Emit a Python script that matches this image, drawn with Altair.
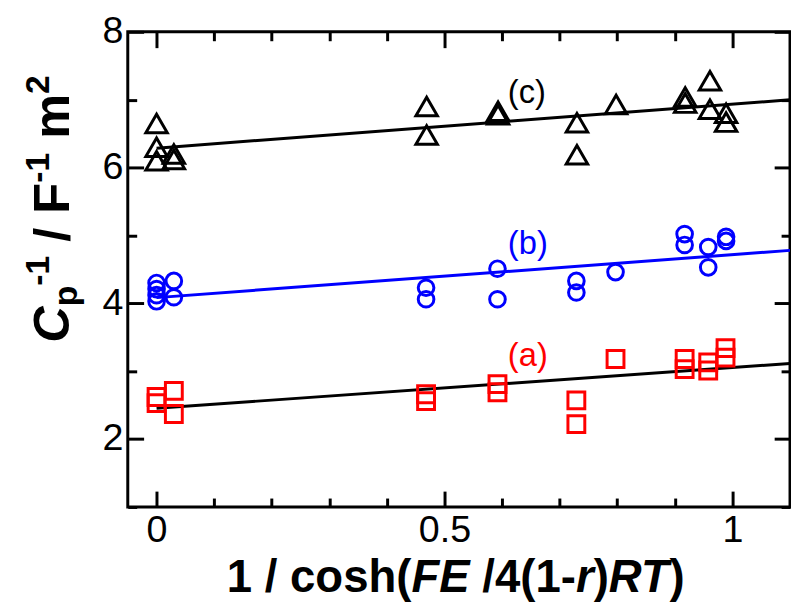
import altair as alt
import pandas as pd

# ---- data ----
xa = [0.0, 0.0, 0.03, 0.03, 0.468, 0.468, 0.592, 0.592, 0.729, 0.729, 0.797,
      0.917, 0.917, 0.958, 0.958, 0.988, 0.988]
ya = [2.62, 2.53, 2.71, 2.37, 2.66, 2.56, 2.81, 2.69, 2.57, 2.22, 3.18,
      3.18, 3.03, 3.13, 3.01, 3.34, 3.20]
xb = [0.0, 0.0, 0.0, 0.0, 0.03, 0.03, 0.468, 0.468, 0.592, 0.592, 0.729, 0.729,
      0.797, 0.917, 0.917, 0.958, 0.958, 0.989, 0.989]
yb = [4.30, 4.21, 4.12, 4.03, 4.33, 4.09, 4.23, 4.06, 4.51, 4.06, 4.33, 4.16,
      4.46, 5.02, 4.86, 4.83, 4.53, 4.98, 4.92]
xc = [0.0, 0.0, 0.0, 0.03, 0.03, 0.469, 0.469, 0.593, 0.593, 0.730, 0.730,
      0.798, 0.918, 0.918, 0.961, 0.961, 0.989, 0.989]
yc = [6.65, 6.30, 6.10, 6.20, 6.12, 6.90, 6.48, 6.83, 6.78, 6.66, 6.19,
      6.93, 7.04, 6.95, 7.28, 6.86, 6.80, 6.67]

label_text = ["(a)", "(b)", "(c)"]
label_x = [0.61, 0.61, 0.61]
label_y = [3.08, 4.73, 6.95]
label_col = ["#ff0000", "#0000ff", "#000000"]

x_ticks = [0.0, 0.1, 0.2, 0.3, 0.4, 0.5, 0.6, 0.7, 0.8, 0.9, 1.0]
y_ticks = [1, 2, 3, 4, 5, 6, 7, 8]

W, H = 669, 480
FONT = "Liberation Sans"
XD = [-0.05, 1.1]
YD = [1, 8]

xs = alt.Scale(domain=XD, nice=False, zero=False)
ys = alt.Scale(domain=YD, nice=False, zero=False)

XMAJ = "abs(datum.value*2 - round(datum.value*2)) < 0.001"
YMAJ = "datum.value % 2 == 0"


def make_axis(vals, major, orient, labels):
    kw = dict(values=vals, format="~g", ticks=True, domain=False, grid=False,
              tickColor="black", tickWidth=3,
              tickSize={"expr": f"({major}) ? -16 : -9"},
              labelFont=FONT, labelFontSize=38, labelColor="black", labelPadding=21,
              labelFlush=False, labelOverlap=False, title=None, orient=orient,
              labels=labels)
    if labels:
        kw["labelExpr"] = f"({major}) ? datum.label : ''"
    return alt.Axis(**kw)


xaxis = make_axis(x_ticks, XMAJ, "bottom", True)
yaxis = make_axis(y_ticks, YMAJ, "left", True)
xaxis_top = make_axis(x_ticks, XMAJ, "top", False)
yaxis_right = make_axis(y_ticks, YMAJ, "right", False)

X = lambda: alt.X("x:Q", scale=xs, axis=xaxis)
Y = lambda: alt.Y("y:Q", scale=ys, axis=yaxis)

dfa = pd.DataFrame({"x": xa, "y": ya})
dfb = pd.DataFrame({"x": xb, "y": yb})
dfc = pd.DataFrame({"x": xc, "y": yc})


def pts(df, shape, color, size, sw=3):
    return alt.Chart(df).mark_point(shape=shape, filled=False, color=color, strokeWidth=sw,
                                    size=size, opacity=1).encode(x=X(), y=Y())


def fit(df, color):
    return alt.Chart(df).transform_regression("x", "y", extent=[0, 1.1]).mark_line(
        color=color, strokeWidth=3, clip=True).encode(x=X(), y=Y())


layers = [fit(dfa, "black"), fit(dfb, "#0000ff"), fit(dfc, "black"),
          pts(dfa, "square", "#ff0000", 290),
          pts(dfb, "circle", "#0000ff", 250),
          pts(dfc, "triangle-up", "black", 470)]

labdf = pd.DataFrame({"x": label_x, "y": label_y, "t": label_text, "c": label_col})
layers.append(alt.Chart(labdf).mark_text(align="left", baseline="alphabetic", font=FONT,
                                         fontSize=33).encode(
    x=X(), y=Y(), text="t:N", color=alt.Color("c:N", scale=None)))

# ---- axis titles with mixed styles ----
MET = {'1': 556, ' ': 278, '/': 278, 'c': 556, 'o': 611, 's': 556, 'h': 611, '(': 333,
       ')': 333, 'F': 611, 'E': 667, '4': 556, '-': 333, 'r': 389, 'R': 722, 'T': 611,
       'C': 722, 'p': 611, 'm': 889, '2': 556}


def wid(s, fs):
    return sum(MET[ch] for ch in s) / 1000.0 * fs


def lead(s, fs):
    n = len(s) - len(s.lstrip(" "))
    return n * MET[' '] / 1000.0 * fs, s.lstrip(" ")


TF = 46
xt_pieces = [("1 / cosh(", "normal"), ("FE", "italic"), (" /4(1-", "normal"),
             ("r", "italic"), (")", "normal"), ("RT", "italic"), (")", "normal")]
cx = 100
for s, st in xt_pieces:
    off, s2 = lead(s, TF)
    layers.append(alt.Chart(pd.DataFrame({"t": [s2]})).mark_text(
        align="left", baseline="alphabetic", font=FONT, fontSize=TF, fontWeight="bold",
        fontStyle=st, color="black").encode(x=alt.value(cx + off), y=alt.value(566), text="t:N"))
    cx += wid(s, TF)

YF = 51
SF = 34
yt_pieces = [("C", YF, "italic", 0), ("p", SF, "normal", 8), ("-1", SF, "normal", -21),
             (" / F", YF, "normal", 0), ("-1", SF, "normal", -21), (" m", YF, "normal", 0),
             ("2", SF, "normal", -21)]
bx = -59
cy = 314
for s, fs, st, dx in yt_pieces:
    off, s2 = lead(s, fs)
    layers.append(alt.Chart(pd.DataFrame({"t": [s2]})).mark_text(
        align="left", baseline="alphabetic", angle=270, font=FONT, fontSize=fs,
        fontWeight="bold", fontStyle=st, color="black").encode(
        x=alt.value(bx + dx), y=alt.value(cy - off), text="t:N"))
    cy -= wid(s, fs)

main = alt.layer(*layers)

# mirrored inward ticks on the top and right edges (same domains, no labels)
mirror = alt.Chart(dfa).mark_point(opacity=0).encode(
    x=alt.X("x:Q", scale=xs, axis=xaxis_top),
    y=alt.Y("y:Q", scale=ys, axis=yaxis_right))

chart = alt.layer(main, mirror).resolve_scale(
    x="independent", y="independent"
).properties(
    width=W, height=H,
    background="white",
    autosize=alt.AutoSizeParams(type="none"),
    padding={"left": 121, "top": 21, "right": 1, "bottom": 98},
).configure_view(stroke="black", strokeWidth=3)

chart.save("out.html", embed_options={"renderer": "svg", "actions": False})
